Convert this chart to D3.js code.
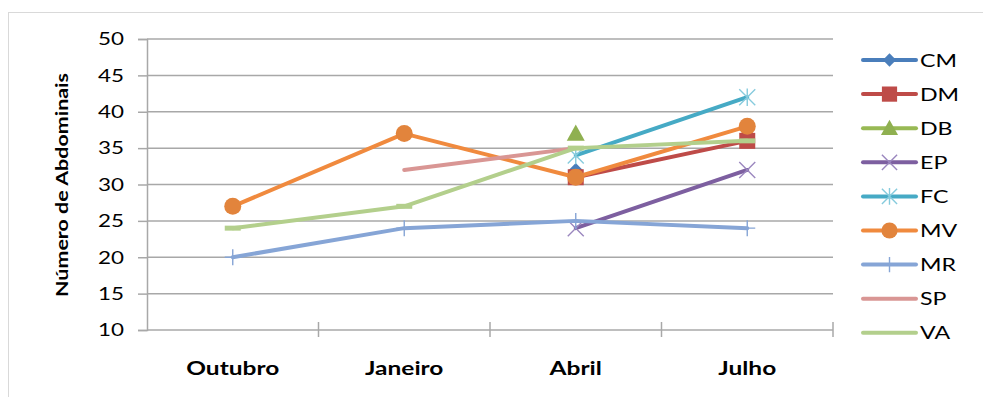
<!DOCTYPE html>
<html><head><meta charset="utf-8">
<script src="https://cdn.jsdelivr.net/npm/d3@7"></script>
<style>
html,body{margin:0;padding:0;background:#fff;}
svg{display:block;}
text{font-family:Lato,"Open Sans",sans-serif;fill:#000;}
</style></head><body>
<svg id="c" width="983" height="397"></svg>
<script>
const categories = ["Outubro","Janeiro","Abril","Julho"];
const seriesNames = ["CM","DM","DB","EP","FC","MV","MR","SP","VA"];
const CM = [null,null,32,null];
const DM = [null,null,31,36];
const DB = [null,null,37,null];
const EP = [null,null,24,32];
const FC = [null,null,34,42];
const MV = [27,37,31,38];
const MR = [20,24,25,24];
const SP = [null,32,35,null];
const VA = [24,27,35,36];
const yTicks = [10,15,20,25,30,35,40,45,50];
const yTitle = "Número de Abdominais";

const values = [CM,DM,DB,EP,FC,MV,MR,SP,VA];
const colors = ["#4A7EBB","#BE4B48","#98B954","#7D5FA0","#46AAC5","#F08A3E","#86A5D6","#D99694","#B3CF8C"];
const markerColors = ["#4A7EBB","#BE4B48","#8FB050","#9A86BE","#86CBDD","#E2843C","#86A5D6","#D99694","#B3CF8C"];
const markers = ["diamond","square","triangle","x","star","circle","plus","none","dash"];

const svg = d3.select("#c");
const X0 = 147, X1 = 833, Y0 = 330, Y1 = 39;
const x = d3.scalePoint().domain(categories).range([X0, X1]).padding(0.5);
const y = d3.scaleLinear().domain([10,50]).range([Y0, Y1]);

// outer border
svg.append("rect").attr("x",8.5).attr("y",12.5).attr("width",990).attr("height",400)
  .attr("fill","none").attr("stroke","#d9d9d9").attr("stroke-width",1);

// gridlines
svg.append("g").selectAll("line").data(yTicks).join("line")
  .attr("x1",X0).attr("x2",X1).attr("y1",d=>y(d)).attr("y2",d=>y(d))
  .attr("stroke","#a8a8a8").attr("stroke-width",1.5);

// y axis
const ya = svg.append("g").attr("transform",`translate(${X0},0)`)
  .call(d3.axisLeft(y).tickValues(yTicks).tickSize(9).tickPadding(14));
ya.select(".domain").attr("stroke","#a8a8a8").attr("stroke-width",1.5);
ya.selectAll(".tick line").attr("stroke","#a8a8a8").attr("stroke-width",1.5);
ya.selectAll(".tick text").attr("font-size",18).attr("fill","#000")
  .style("font-family","Lato,'Open Sans',sans-serif")
  .attr("textLength",26).attr("lengthAdjust","spacingAndGlyphs");

// x ticks at band boundaries
const step = x.step();
const bounds = d3.range(categories.length+1).map(i => X0 + i*step);
svg.append("g").selectAll("line").data(bounds.slice(1)).join("line")
  .attr("x1",d=>d).attr("x2",d=>d).attr("y1",Y0-8).attr("y2",Y0+7)
  .attr("stroke","#a8a8a8").attr("stroke-width",1.5);

// x labels
const xl = svg.append("g").selectAll("text").data(categories).join("text")
  .attr("x",d=>x(d)).attr("y",375).attr("text-anchor","middle")
  .attr("font-size",18).attr("font-weight","bold").text(d=>d);
let xf = 1;
xl.each(function(d){ if(d==="Outubro") xf = 93/this.getComputedTextLength(); });
xl.each(function(){ const n=this.getComputedTextLength();
  d3.select(this).attr("textLength",n*xf).attr("lengthAdjust","spacingAndGlyphs"); });

// y title
const yt = svg.append("text").attr("transform","translate(68,185) rotate(-90)")
  .attr("text-anchor","middle").attr("font-size",17).attr("font-weight","bold").text(yTitle);
yt.attr("textLength",224).attr("lengthAdjust","spacingAndGlyphs");

function drawMarker(g, type, cx, cy, i, scale){
  const s = scale||1;
  const c = markerColors[i];
  if(type==="diamond"){
    const r=7*s; g.append("path").attr("d",`M${cx},${cy-r}L${cx+r},${cy}L${cx},${cy+r}L${cx-r},${cy}Z`).attr("fill",c);
  } else if(type==="square"){
    const r=8*s; g.append("rect").attr("x",cx-r).attr("y",cy-r).attr("width",2*r).attr("height",2*r).attr("fill",c);
  } else if(type==="triangle"){
    const r=9*s; g.append("path").attr("d",`M${cx},${cy-r}L${cx+r},${cy+r*0.8}L${cx-r},${cy+r*0.8}Z`).attr("fill",c);
  } else if(type==="x"){
    const r=8*s; g.append("path").attr("d",`M${cx-r},${cy-r}L${cx+r},${cy+r}M${cx-r},${cy+r}L${cx+r},${cy-r}`)
      .attr("stroke",c).attr("stroke-width",1.4).attr("fill","none");
  } else if(type==="star"){
    const r=8*s; g.append("path").attr("d",`M${cx-r},${cy-r}L${cx+r},${cy+r}M${cx-r},${cy+r}L${cx+r},${cy-r}M${cx},${cy-r*1.1}L${cx},${cy+r*1.1}`)
      .attr("stroke",c).attr("stroke-width",1.4).attr("fill","none");
  } else if(type==="circle"){
    g.append("circle").attr("cx",cx).attr("cy",cy).attr("r",8.5*s).attr("fill",c);
  } else if(type==="plus"){
    const r=8*s; g.append("path").attr("d",`M${cx-r},${cy}L${cx+r},${cy}M${cx},${cy-r}L${cx},${cy+r}`)
      .attr("stroke",c).attr("stroke-width",1.4).attr("fill","none");
  } else if(type==="dash"){
    const r=8*s; g.append("path").attr("d",`M${cx-r},${cy}L${cx+r},${cy}`)
      .attr("stroke",c).attr("stroke-width",5).attr("fill","none");
  }
}

// series
const line = d3.line().defined(d=>d.v!=null).x(d=>x(d.c)).y(d=>y(d.v));
values.forEach((vals,i)=>{
  const g = svg.append("g");
  const pts = categories.map((c,j)=>({c, v: vals[j]}));
  g.append("path").attr("d", line(pts)).attr("fill","none")
    .attr("stroke",colors[i]).attr("stroke-width",4)
    .attr("stroke-linejoin","round").attr("stroke-linecap","round");
  pts.filter(p=>p.v!=null).forEach(p=>drawMarker(g, markers[i], x(p.c), y(p.v), i));
});

// legend
const lg = svg.append("g");
const ly = d3.scaleLinear().domain([0,8]).range([60,332.8]);
let lf = 1;
seriesNames.forEach((n,i)=>{
  const yy = ly(i);
  lg.append("line").attr("x1",863).attr("x2",916).attr("y1",yy).attr("y2",yy)
    .attr("stroke",colors[i]).attr("stroke-width",4).attr("stroke-linecap","round");
  if(markers[i]!=="dash") drawMarker(lg, markers[i], 889.5, yy, i, 0.95);
  const t = lg.append("text").attr("x",920).attr("y",yy+6.5).attr("font-size",18).text(n);
  if(i===0) lf = 37/t.node().getComputedTextLength();
  t.attr("textLength",t.node().getComputedTextLength()*lf).attr("lengthAdjust","spacingAndGlyphs");
});
</script>
</body></html>
